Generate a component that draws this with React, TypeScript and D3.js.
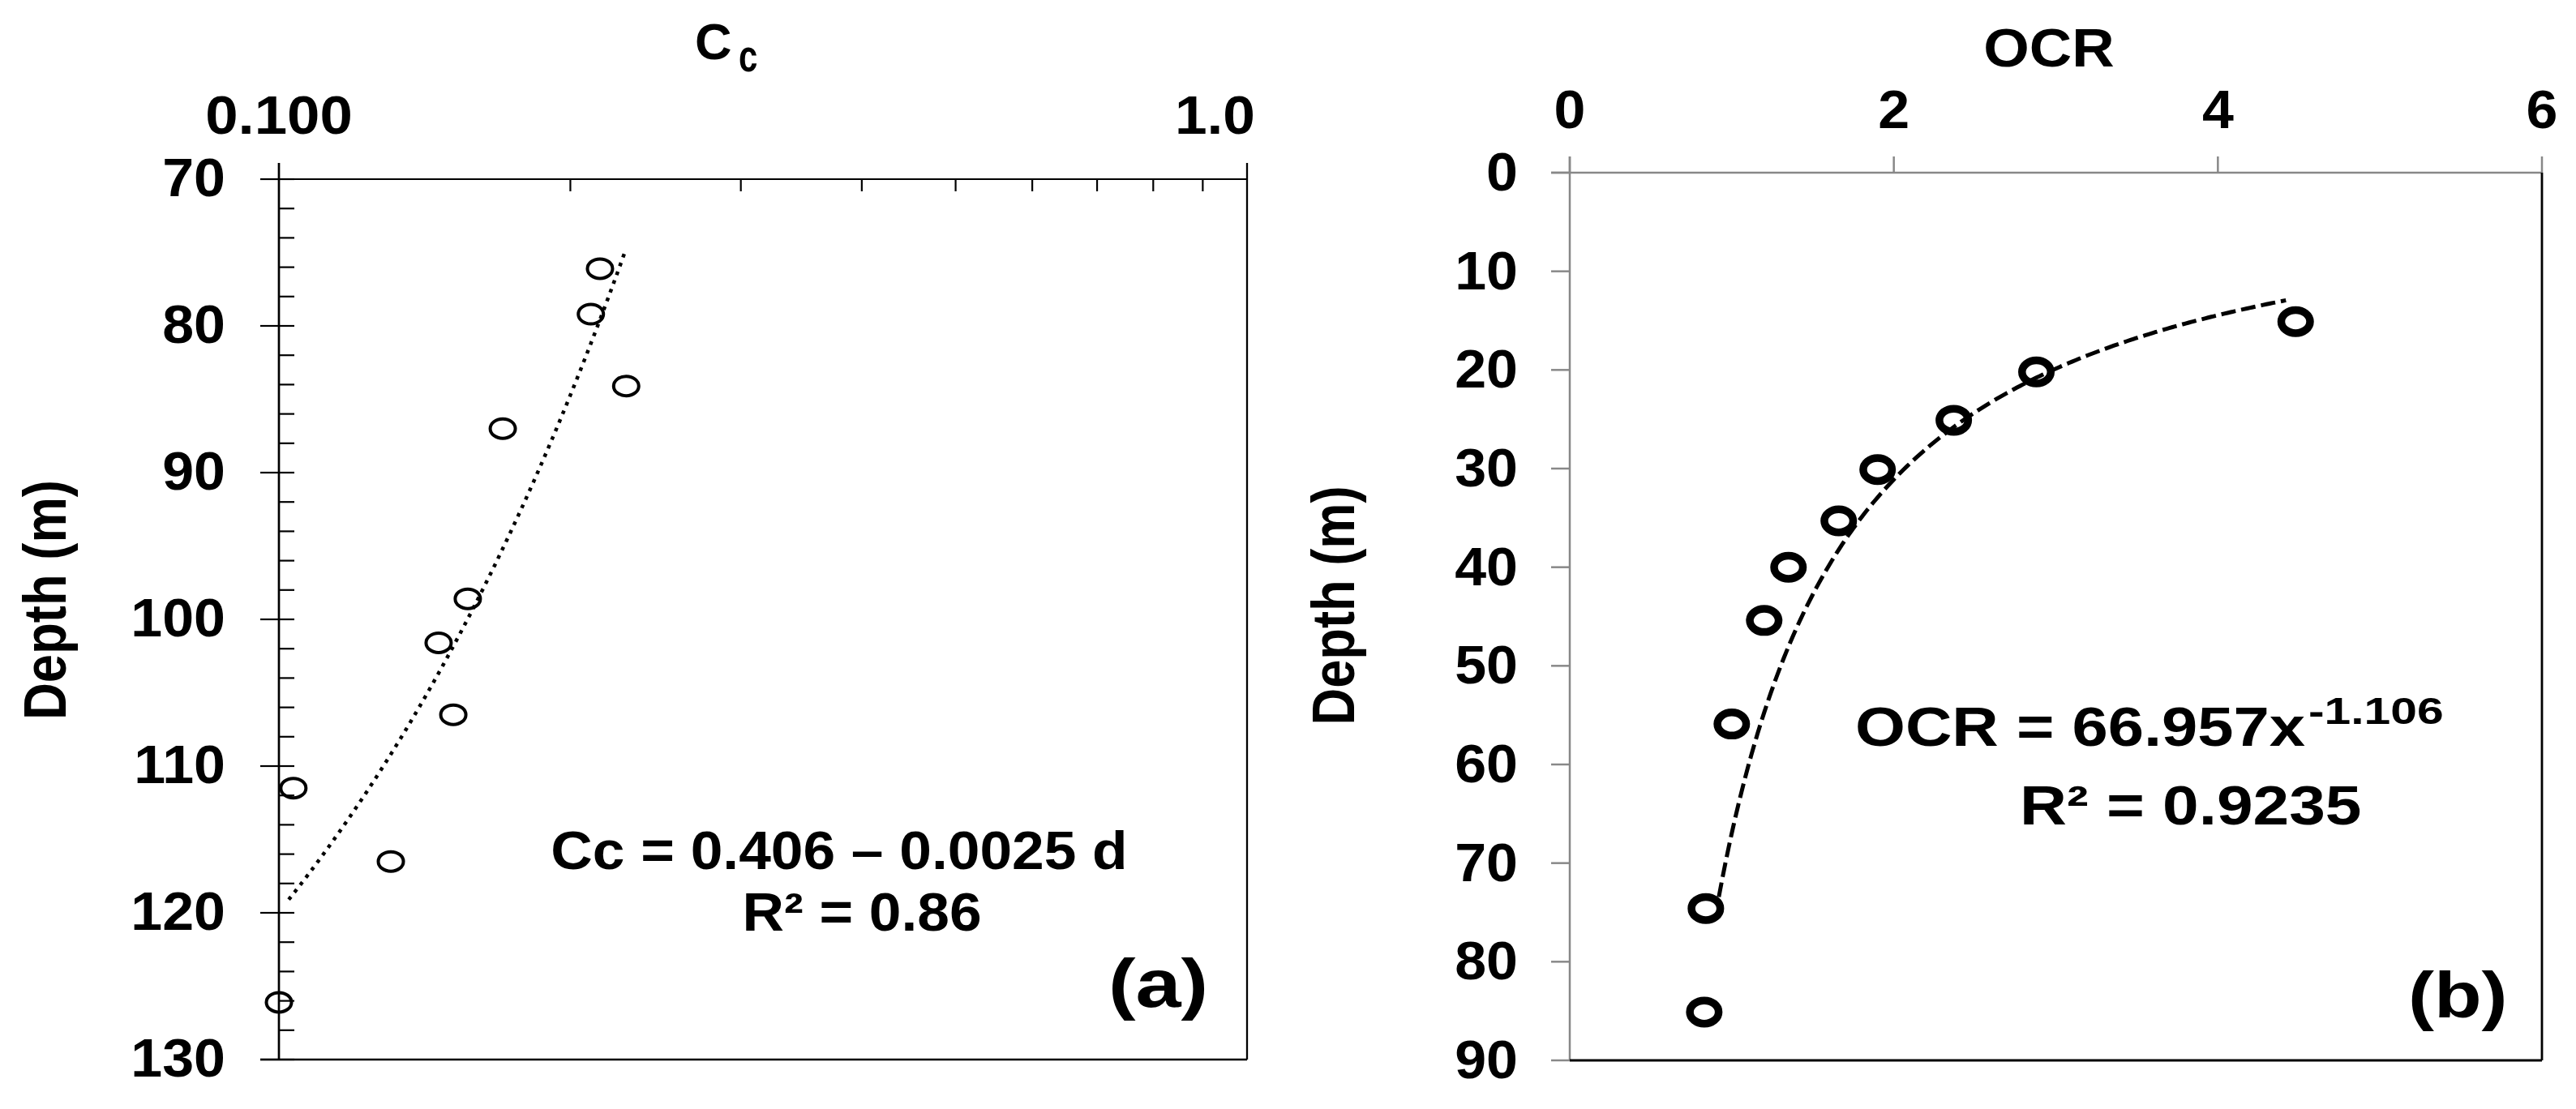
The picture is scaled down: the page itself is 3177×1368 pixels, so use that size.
import React from 'react';
import * as d3 from 'd3';

const W = 3177;
const H = 1368;
const FONT = '"Liberation Sans", Arial, "Noto Sans", sans-serif';

// ---------- Panel (a): Cc vs depth ----------
const ccValues = [0.2146, 0.21, 0.2284, 0.1703, 0.1567, 0.1462, 0.1514, 0.1035, 0.1305, 0.1];
const ccDepths = [76.1, 79.2, 84.1, 87.0, 98.6, 101.6, 106.5, 111.5, 116.5, 126.1];
const ccMajorTicks = [0.1, 1.0];
const ccTickLabels = ['0.100', '1.0'];
const ccMinorTicks = [0.2, 0.3, 0.4, 0.5, 0.6, 0.7, 0.8, 0.9];
const depthTicksA = [70, 80, 90, 100, 110, 120, 130];
const depthMinorA = d3.range(70, 131, 2);
// linear trend line Cc = intercept + slope * depth (as drawn in the figure)
const ccFitIntercept = 0.4406;
const ccFitSlope = -0.00284;
const ccFitDepthRange = [75.1, 119.5];

// ---------- Panel (b): OCR vs depth ----------
const ocrValues = [4.48, 2.88, 2.37, 1.9, 1.66, 1.35, 1.2, 1.0, 0.84, 0.83];
const ocrDepths = [15.1, 20.2, 25.1, 30.1, 35.3, 40.0, 45.4, 55.9, 74.6, 85.1];
const ocrTicks = [0, 2, 4, 6];
const depthTicksB = [0, 10, 20, 30, 40, 50, 60, 70, 80, 90];
// power trend: depth = a * OCR^b
const ocrFitA = 66.957;
const ocrFitB = -1.106;
const ocrFitRange = [0.92, 4.43];

type TProps = {
  x: number; y: number; size: number; anchor?: string; sx?: number; children?: React.ReactNode; rotate?: number; len?: number;
};
function T({ x, y, size, anchor = 'start', sx = 1, children, rotate = 0, len }: TProps) {
  const tr = `translate(${x},${y})` + (rotate ? ` rotate(${rotate})` : '') + (sx !== 1 ? ` scale(${sx},1)` : '');
  const extra: any = len ? { textLength: len, lengthAdjust: 'spacingAndGlyphs' } : {};
  return (
    <text transform={tr} fontSize={size} textAnchor={anchor} fontWeight="bold" fontFamily={FONT} fill="#000" {...extra}>
      {children}
    </text>
  );
}

export default function App() {
  // scales
  const xA = d3.scaleLog().domain([0.1, 1]).range([344, 1538]);
  const yA = d3.scaleLinear().domain([70, 130]).range([221, 1307]);
  const xB = d3.scaleLinear().domain([0, 6]).range([1936, 3135]);
  const yB = d3.scaleLinear().domain([0, 90]).range([213, 1308]);

  const [aL, aR] = xA.range();
  const [aT, aB] = yA.range();
  const [bL, bR] = xB.range();
  const [bT, bB] = yB.range();

  const fitAData = d3.range(ccFitDepthRange[0], ccFitDepthRange[1] + 0.01, 0.5).map((d) => ({ d, v: ccFitIntercept + ccFitSlope * d }));
  const fitALine = d3.line<{ d: number; v: number }>().x((p) => xA(p.v)).y((p) => yA(p.d));

  const fitBData = d3.range(ocrFitRange[0], ocrFitRange[1] + 0.001, 0.02).map((o) => ({ o, d: ocrFitA * Math.pow(o, ocrFitB) }));
  const fitBLine = d3.line<{ o: number; d: number }>().x((p) => xB(p.o)).y((p) => yB(p.d)).curve(d3.curveMonotoneX);

  const gray = '#888888';

  return (
    <svg width={W} height={H} style={{ position: 'absolute', left: 0, top: 0, display: 'block', background: '#fff' }}>
      <rect x={0} y={0} width={W} height={H} fill="#fff" />

      {/* ================= Panel (a) ================= */}
      {/* title */}
      <T x={857} y={73} size={63}>C</T>
      <T x={911} y={88} size={56} sx={0.75}>c</T>

      {/* x tick labels (top) */}
      <T x={xA(ccMajorTicks[0])} y={165} size={66} anchor="middle" sx={1.1}>{ccTickLabels[0]}</T>
      <T x={xA(ccMajorTicks[1]) + 10} y={165} size={66} anchor="end" sx={1.08}>{ccTickLabels[1]}</T>

      {/* axes frame */}
      <line x1={aL - 23} x2={aR} y1={aT} y2={aT} stroke="#000" strokeWidth={2.2} />
      <line x1={aL} x2={aL} y1={aT - 20} y2={aB} stroke="#000" strokeWidth={2.7} />
      <line x1={aR} x2={aR} y1={aT - 20} y2={aB} stroke="#000" strokeWidth={2.3} />
      <line x1={aL - 23} x2={aR} y1={aB} y2={aB} stroke="#000" strokeWidth={2.7} />

      {/* top minor ticks (inward) */}
      {ccMinorTicks.map((v) => (
        <line key={'mx' + v} x1={xA(v)} x2={xA(v)} y1={aT} y2={aT + 15} stroke="#000" strokeWidth={2.2} />
      ))}
      {/* left ticks */}
      {depthMinorA.map((d) => (
        <line key={'my' + d} x1={aL} x2={aL + 19} y1={yA(d)} y2={yA(d)} stroke="#000" strokeWidth={2.2} />
      ))}
      {depthTicksA.map((d) => (
        <line key={'Ma' + d} x1={aL - 23} x2={aL} y1={yA(d)} y2={yA(d)} stroke="#000" strokeWidth={2.2} />
      ))}
      {/* y tick labels */}
      {depthTicksA.map((d) => (
        <T key={'la' + d} x={278} y={yA(d) + 21} size={66} anchor="end" sx={1.06}>{String(d)}</T>
      ))}

      {/* y title */}
      <T x={81} y={740} size={75} anchor="middle" rotate={-90} len={296}>Depth (m)</T>

      {/* trend line */}
      <path d={fitALine(fitAData) || ''} fill="none" stroke="#000" strokeWidth={4.5} strokeDasharray="4.5 7" />

      {/* points */}
      {ccValues.map((v, i) => (
        <ellipse key={'pa' + i} cx={xA(v)} cy={yA(ccDepths[i])} rx={15.5} ry={12} fill="none" stroke="#000" strokeWidth={4} />
      ))}

      {/* equation */}
      <T x={1035} y={1072} size={66} anchor="middle" sx={1.08}>Cc = 0.406 – 0.0025 d</T>
      <T x={1063} y={1148} size={66} anchor="middle" sx={1.08}>R² = 0.86</T>
      <T x={1367} y={1242} size={84} sx={1.2}>(a)</T>

      {/* ================= Panel (b) ================= */}
      <T x={2527} y={82} size={66} anchor="middle" sx={1.1}>OCR</T>

      {ocrTicks.map((t) => (
        <T key={'lb' + t} x={xB(t)} y={158} size={66} anchor="middle" sx={1.06}>{String(t)}</T>
      ))}

      {/* axes */}
      <line x1={bL - 23} x2={bR} y1={bT} y2={bT} stroke={gray} strokeWidth={2.5} />
      <line x1={bL} x2={bL} y1={bT - 20} y2={bB} stroke={gray} strokeWidth={2.5} />
      <line x1={bR} x2={bR} y1={bT} y2={bB} stroke="#000" strokeWidth={2.8} />
      <line x1={bL} x2={bR} y1={bB} y2={bB} stroke="#000" strokeWidth={2.8} />
      {ocrTicks.map((t) => (
        <line key={'tb' + t} x1={xB(t)} x2={xB(t)} y1={bT - 20} y2={bT} stroke={gray} strokeWidth={2.5} />
      ))}
      {depthTicksB.map((d) => (
        <line key={'yb' + d} x1={bL - 23} x2={bL} y1={yB(d)} y2={yB(d)} stroke={gray} strokeWidth={2.5} />
      ))}
      {depthTicksB.map((d) => (
        <T key={'lyb' + d} x={1872} y={yB(d) + 22} size={66} anchor="end" sx={1.06}>{String(d)}</T>
      ))}

      <T x={1670} y={747} size={75} anchor="middle" rotate={-90} len={295}>Depth (m)</T>

      {/* trend curve */}
      <path d={fitBLine(fitBData) || ''} fill="none" stroke="#000" strokeWidth={5} strokeDasharray="18 7" />

      {/* points */}
      {ocrValues.map((v, i) => (
        <ellipse key={'pb' + i} cx={xB(v)} cy={yB(ocrDepths[i])} rx={17.75} ry={14.25} fill="none" stroke="#000" strokeWidth={9.5} />
      ))}

      {/* equation */}
      <T x={2288} y={920} size={68} sx={1.17}>OCR = 66.957x</T>
      <T x={2847} y={893} size={47} sx={1.25}>-1.106</T>
      <T x={2491} y={1017} size={68} sx={1.18}>R² = 0.9235</T>
      <T x={2970} y={1255} size={80} sx={1.2}>(b)</T>
    </svg>
  );
}
